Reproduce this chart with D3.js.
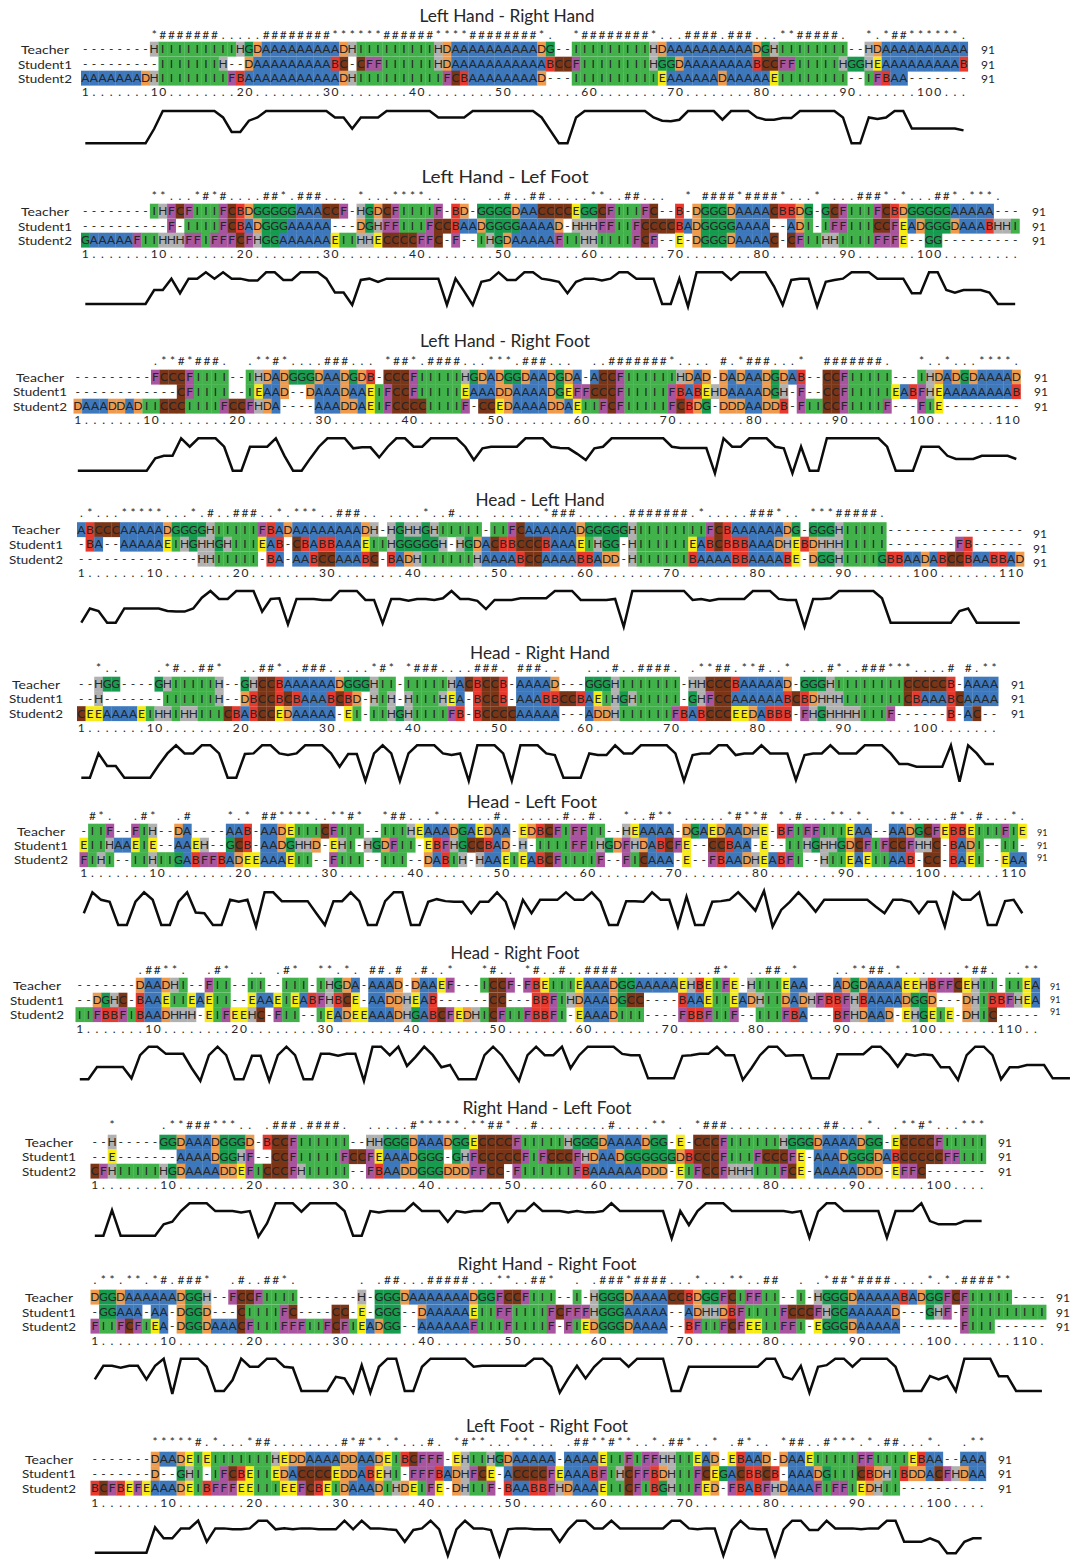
<!DOCTYPE html>
<html><head><meta charset="utf-8">
<script src="https://cdnjs.cloudflare.com/ajax/libs/d3/7.8.5/d3.min.js"></script>
<style>
html,body{margin:0;padding:0;background:#fff;}
svg{display:block;}
text{font-family:"Lato","Open Sans",sans-serif;fill:#262626;white-space:pre;}
</style></head><body><div id="c"></div>
<script>
const titles=["Left Hand - Right Hand","Left Hand - Lef Foot","Left Hand - Right Foot","Head - Left Hand","Head - Right Hand","Head - Left Foot","Head - Right Foot","Right Hand - Left Foot","Right Hand - Right Foot","Left Foot - Right Foot"];
const rowNames=["Teacher","Student1","Student2"];
const countLabel="91";
const teacher=[
"--------HIIIIIIIIIHGDAAAAAAAAADHIIIIIIIIIHDAAAAAAAAAADG--IIIIIIIIIHDAAAAAAAAAADGHIIIIIIII--HDAAAAAAAAAA",
"--------IHFCFIIIFCBDGGGGGAAACCF-HGDCFIIIIF-BD-GGGGDAACCCCEGGCFIIIFC--B-DGGGDAAAACBBDG-GCFIIIFCBDGGGGGAAAAA---",
"---------FCCCFIIII--IHDADGGGDAADGDB-CCCFIIIIIHGDADGGDAADGDA-ACCFIIIIIIHDAD-DADAADGDAB--CCFIIIII---IHDADGDAAAAD",
"ABCCCAAAAADGGGGHIIIIIFBADAAAAAAAADH-HGHHGHIIIII-IIFCAAAAAADGGGGGHIIIIIIIIFCBAAAAAADG-GGGHIIIII----------------",
"--HGG----GHIIIIIH--GHCCBAAAAAADGGGHII-IIIIIHACBCCB-AAAAD---GGGHIIIIIII-HHCCCBAAAAAD-GGGHIIIIIIIICCCCCB-AAAA",
"-IIF--FIH--DA----AAB-AADEIIICFIII--IIIHEAAADGAEDAA-EDBCFIFFII--HEAAAA-DGAEDAADHE-BFIFFIIIEAA--AADGCFEBBEIIIFIE",
"-------DAADHI--FII--II--III-IHGDA-AAAD-DAAEF---ICCF-FBEIIIEAAADGGAAAAAEHBEIFE-HIIIEAA---ADGDAAAAEEHBFFCEHII-IIEA",
"--H-----GGDAAADGGGD-BCCFIIIIII--HHGGGDAAADGGECCCCFIIIIIHGGGDAAAADGG-E-CCCFIIIIIIHGGGDAAAADGG-ECCCCFIIIII",
"DGGDAAAAAADGGH--FCCFIIII-------H-GGGDAAAAAAADGGFCCFIII--I-HGGGDAAAACCBDGGFCIFFII--I-HGGGDAAAAABADGGFCFIIIII----",
"-------DAADEIEIIIIIIIHEDDAAAADDAADEIBCFFF-EHIIHGDAAAAA-AAAAEIIFIFFHHIIEAD-EBAAD-DAAEIIIIIFFIIIIEBAA--AAA"];
const student1=[
"---------IIIIIIIH--DAAAAAAAAABC-CFFIIIIIIHDAAAAAAAAAAABCCFIIIIIIIIHGGDAAAAAAAABCCFFIIIIIHGGHEAAAAAAAAAB",
"----------F-IIIIFCBADGGGAAAAA---DGHFFIIIFCCBAADGGGGAAAAD-HHHFFIIFCCCCBADGGGGAAAA--ADI-IFFIIICCFEADGGGDAAABHHI",
"------------CFIIII--IEAAD--DAAADAAEIFCCFIIIIIEAAADDAAAADGEFFCCCFIIIIIFBABEHDAAAADGH-F--CCFIIIIIEABFHEAAAAAAAAB",
"-BA--AAAAAEIHGHHGHIIIEAB-CBABBAAAEIIHGGGGGH-HGDACBBCCCBAAAEIHGG-HIIIIIIEABCBBBAAADHEBDHHHIIIII--------FB------",
"--H-------IIIIIIH--DBCCBCBAAABCBD-HIH-HIIIHEA-BCCB-AAABBCCBAEIHGHIIIII-GHFCCAAAAAABCBDHHHIIIIIIICBAAABCAAAA",
"EIIHAAEIE--AAEH--GCB-AADGHHD-EHI-HGDFII-EBFHGCCBAD-H-IIIIFFIHGDFHDABCFE--CCBAA-E--IIHGHHGDCFIFCCFHHC-BADI--II-",
"--DGHC-BAAEIIEAEII--EAAEIEABFHBCE-AADDHEAB------CC---BBFIHDAAADGCC----BAAEIIEADHIIDADHFBBFHBAAAADGGD---DHIBBFHEA",
"--E-------AAAADGGHF--CCFIIIIIFCCFEAAADGGG-GHFCCCCCFIFCCCFHDAADGGGGGGDBCCCFIIIFCCCFE-AAADGGGDABCCCCCFFIII",
"-GGAAA-AA-DGGD---CIIIIFC----CC-E-GGG--DAAAAAEIIFFIIIIFCFFFHGGGAAAAA--ADHHDBFIIIIFCCCFHGGAAAAAD---GHF-FIIIIIIIII",
"-------D--GHI-IFCBEIIEDACCCCEDDABEHI-FFFBADHFCE-ACCCCFEAAABFIHCFFBDHIIFCEGACBBCB-AAADGIIICBDHIBDDACFHDAA"];
const student2=[
"AAAAAAADHIIIIIIIIFBAAAAAAAAAAADHIIIIIIIIIIFCBAAAAAAAAD---IIIIIIIIIIEAAAAAADAAAAAEIIIIIIII--IFBAA-------",
"GAAAAAFIIHHHFFIFFFCFHGGAAAAAAEIIHHECCCCFFC-F--IHGDAAAAAFIIHHIIIIFCF--E-DGGGDAAAAC-CFIIHHIIIIFFFE--GG---------",
"DAAADDADIICCCIIIIFCCFHDA----AAADDAEIFCCCCIIIIF-CCEDAAAADDAEIIFCFIIIIIFCBDG-DDDAADDB-FIICCFIIIIF---FIE---------",
"--------------HHIIIII-BA-AABCCAAABC-BADHIIIIIIHAAAABCCAAAABBADD-HIIIIIIBAAAABBAAAABE-DGGHIIIIGBBAADABCCBAABBAD",
"CEEAAAAEIHHIHHIIICBABCCEDAAAAA-EI-IIHGHIIIIFB-BCCCCAAAAA---ADDHIIIIIIFBABCCCEEDABBB-FHGHHHHIIIF------B-AC--",
"FIHI--IIHIIGABFFBADEEAAAEII--FIII--III--DABIH-HAAEIEABCFIIIIF--FICAAA-E--FBAADHEABFI--HIIEAEIIAAB-CC-BAEI--EAA",
"IIFBBFIBAADHHH-EIFEEHC-FII--IEADEEAAADHGABCFEDHICFIIFBBFI-EAAADIII----FBBFIIF--IIIFBA---BFHDAAD-EHGEIE-DHIC-----",
"CFHIIIIIHGDAAAADDEFICCCFHIIIII--FBAADDGGGDDDFFCC-FIIIIIIFBAAAAAADDD-EIFCCFHHHIIIFCE-AAAAADDD-EFFC-------",
"FIIFCFIEA-DGGDAAACFIIIFFFIIFCFIEADGG--AAAAAAFIIIFIIIIF-FIEDGGGDAAAA--BFIIFCFEEIIFFI-EGGGDAAAAA-------FIII------",
"BCFBEFEAAADEIBFFFEEIIIEEFCBEIDAAADIHDEIFE-DHIIF-BAABBFHDAAAEIICFIBGHIIFED-FBABFHDAAAFIFFIEDHII----------"];
const consensus=[
"        *#######.....########******######****########*.  *########*...####.###...**#####.  *.*##******.",
"        **...*#*#....##*.###... *...****.. ..  ..#..##.....**..##...  * ####*####*...* ...###*.*...##*.***.",
"         .**#*###.  .**#*....###... *##*.####...***.###...  ..#######*.... #.*###...*  #######.   *..*...****.",
".*...*****...*.#..###..*.***..###.. ....*..#... ......*###......#######.*.....###*.. ***#####.",
"  *..    .*#..##*  ..##*..###.....*#* *###....###. ###..   ...#..####. .**##.**#..* ...#*..###***....# #.**",
" #*.  .#*  .#    *.* ##****..**#*  *##...*......#. .....#..#.  *..#** .....*#**# *.#...**.*.  **.....#*.#...*.",
"       .##**.  .#*  .. .#*  **.*. ##.# .#..*   *#.. *#..#..####...........#*. ..##.*    ..**##.*.......*##. ..**",
"  *     .**###***.. .###.####.  .....#*****.**##*..#........#....** . *###...........##...*. .**#*...***",
".**.**.*#.###*  .#..##*.       . .##...#####...**..##*  . .###*####...*...**..##  . .*##*####....*.*.####**",
"       *****#.*...*##........#*#**.*...#. *#**...**... .##**#**..*.##*..* .#*.. *##..#***.*.##...*.  .**"];
const conservation=[
[0,0,0,0,0,0,0,0,4.5,10,10,10,10,10,10,10,8,3.5,3.5,7,8,10,10,10,10,10,10,10,10,8,8,4.5,8,8,8,10,10,10,10,10,10,8,8,8,8,10,10,10,10,10,10,10,10,8,4,0,0,8,10,10,10,10,10,10,10,10,8,7,6.8,7.3,10,10,10,10,7.3,10,10,10,8,7.3,7.3,7.8,7.8,10,10,10,10,10,8,0,0,8,7.5,8,10,10,4.6,4.6,4.6,4.6,4.6,4.6,4],
[0,0,0,0,0,0,0,0,4.4,4.4,8,3.4,8,8,10,8,10,8,8,7.4,7.4,10,10,7.6,7.6,10,10,10,8,3.6,3.6,-.3,7.6,8,7,8,8,8,8,8,8,8,-.3,8,4,-.3,7,7.6,10,7.6,7.6,10,10,8,7.6,7,3.4,7,8,8,7.4,8,10,10,8,8,8,0,0,8,-.8,10,10,10,10,7.6,10,10,10,10,5.5,-.3,7.6,8,8,-.8,7,7.6,8,10,10,10,8,8,8,8,3.4,3.4,10,10,4.4,3.6,4.4,4.4,4.4,3.6,0,0,0],
[0,0,0,0,0,0,0,0,0,3.8,4.6,4.6,10,7.4,10,10,10,7.4,0,0,7.4,7.4,7.4,10,4.6,0,0,3.8,7.4,10,10,10,6.9,7.2,7.2,4.1,7.4,10,10,7.4,7.4,10,10,10,10,7.4,3.3,6.9,7.4,7.4,7.4,7.4,10,10,10,7.4,7,6.9,5.2,3.3,6.9,7.4,10,10,10,10,10,10,10,7.4,7,7,7,7,-.8,10,7.4,7.4,10,10,10,7.4,6.9,-.8,7.4,0,0,10,10,10,10,10,10,10,7.4,0,0,0,7.4,7.4,7.4,4.6,3.6,3.6,3.6,4.6,4.6,4.6,4.6,3.6],
[0,4.5,3.7,0,0,4.5,4.5,4.5,4.5,4.5,3.7,3.5,3.5,4.5,7.9,10,7.5,7.5,10,10,10,3.5,7.5,7.7,-.5,7.5,7.5,7.5,7.2,7.2,10,10,10,7.2,7.2,-.2,7.5,7.5,6.9,7.5,7.5,7.2,7.7,10,7.5,7.5,6.9,4.3,7.2,7.2,7.2,7.7,7.7,7.7,7.7,10,10,10,7.2,7.2,7.2,7.2,7.5,-1.3,10,10,10,10,10,10,10,7.2,7.5,6.9,7.5,7.5,7.5,7.5,10,10,10,7.5,7.2,7.2,-1.3,7.5,7.5,7.7,10,10,10,10,10,7.7,0,0,0,0,0,0,0,0,3.7,4.5,0,0,0,0,0,0],
[0,0,7.5,3.6,3.6,0,0,0,0,3.9,7.5,10,7.5,7.5,10,10,7.5,0,0,7.3,7.5,10,10,7.5,7,7.5,10,10,10,7.5,3.4,7.3,7.3,-1,7.5,10,7.5,-1,7.5,10,10,10,7.5,7,7.5,-1,10,10,10,7.5,-1,10,10,10,7.5,7,0,0,0,7.5,7,7,10,7.5,7.5,10,10,10,10,7.5,-1,7,7.5,7.5,10,10,7,7.5,7.5,10,7.5,7.5,7.5,-.7,7,7.5,7.5,10,7.5,7.5,7.5,10,10,10,7.5,4.2,4.2,3.4,3.4,3.4,3.4,10,-1.2,10,7.5,4.2,4.2],
[3.6,10,7.7,7.1,0,0,7.1,10,7.7,0,0,7.1,10,3.8,3.6,0,0,7.7,7.1,7.7,-.5,10,10,7.3,7.3,7.3,7.3,3.6,0,7.3,7.3,10,7.3,0,0,7.3,10,10,0,0,7.1,7.9,7.3,7.1,7.1,3.6,7.1,7.1,10,7.1,-.5,7.7,3.6,7.7,7.7,7.7,10,7.7,7.7,10,7.1,0,0,7.3,7.3,7.1,10,7.7,7.7,-.5,8.7,0,0,7.1,7.3,7.7,10,7.3,4.4,10.4,-.5,4.6,7.1,10,7.3,4.1,7.7,7.7,7.7,7.7,7.7,7.7,5.6,3.6,7.7,7.7,7.1,3.6,7.1,7.1,-.5,10,7.7,7.7,10,0,0,7.3,7.7,3.6],
[0,0,3.8,3.8,3.8,3.8,.3,7.4,10,10,7.8,7.8,7.8,3.4,-.5,7.4,10,7.4,0,0,7.2,7.2,-.5,7.4,10,7.4,0,0,7.8,7.8,7.2,7.8,7.8,-.5,10,10,7.4,10,4.1,6.9,10,7.4,3.7,4.4,0,0,0,7.4,10,7.4,3.4,-.5,7.4,10,7.4,7.4,10,3.4,7.4,10,10,10,10,7.8,7.4,7.4,.3,.3,.3,.3,7.2,7.4,7.8,7.8,10,7.4,7.4,-.2,3.4,7.4,10,10,7.2,7.4,7.4,.3,.3,.3,7.7,7.7,7.7,7.7,10,10,7.4,3.9,7.7,7.2,7.7,7.4,3.7,3.7,-.2,7.4,10,10,7.4,0,3.7,3.7,4.4,4.4,4.4,.3,.3,.3],
[0,0,7.9,0,0,0,0,0,3.5,4.3,7.6,10,10,10,7.6,7.6,7.6,7.2,7.6,-.3,3.8,10,10,10,7.4,10,10,10,10,7.6,0,0,7.6,7.2,7.6,7.6,7.6,10,7.6,7.6,7.6,4.3,7.6,7.2,7.6,7.6,10,10,4.3,7.6,7.6,10,7.6,7.6,7.6,7.2,7.6,7.2,7.2,7.6,10,7.6,7.6,7.6,7.6,7.6,7.6,-.8,7.6,3.3,7.6,10,10,10,7.6,7.6,7.6,7.6,7.6,7.6,7.6,7.2,7.6,-.6,7.4,10,10,7.6,7.6,7.6,7.6,7.6,-.6,7.6,7.6,7.6,10,4.5,3.5,3.5,3.5,4.5,4.5,4.5],
[3.6,7.8,7.8,7.2,7.8,7.8,3.6,7.8,10,-.9,10,10,10,7.5,0,0,3.4,10,7.5,7.5,10,10,7.5,7.2,0,0,0,0,4.4,3.9,-.5,8,-.5,7.5,10,10,0,0,7.5,10,10,10,10,10,7.5,7.8,7.8,7.8,7.8,7.8,7.8,10,10,7.5,-.5,3.9,7.8,3.9,7.5,10,10,10,7.5,10,10,10,10,0,0,7.5,7.5,7.5,7.5,7.5,7.5,7.5,7.5,7.5,10,10,4.4,3.6,7.8,-.5,7.5,8,10,10,7.5,10,10,10,10,7.5,0,0,0,4.6,3.6,4.6,0,10,10,10,10,4.6,4.6,0,0,0,0],
[0,0,0,0,0,0,0,7.9,4.5,4.5,7.6,7.6,10,3.4,7.6,7.6,7.3,7.3,7.6,10,10,7.3,7.6,7.3,7.6,7.6,7.3,7.3,7.3,10,7.3,10,7.6,7.6,7.3,7.1,3.4,7.1,7.6,10,7.3,-.9,7.3,10,7.6,7.6,7.1,-.9,7.3,7.6,7.6,7.3,7.3,7.3,3.4,7.3,10,10,7.6,7.6,10,7.6,7.6,7.6,7.6,7.6,7.6,10,10,7.6,7.3,7.6,7.6,-.9,7.1,10,7.6,7.3,7.3,-.9,7.3,10,10,7.1,7.1,10,7.6,7.6,7.6,7.3,7.6,7.6,10,10,3.4,3.4,3.4,4.5,3.4,-.2,-.2,3.4,4.5,4.5]];
const symbolColors={A:"#3d78bc",B:"#e63a2e",C:"#7a3416",D:"#ee9b4e",E:"#f6eb14",F:"#a9549e",G:"#169b4f",H:"#b1b1b1",I:"#41b24a"};

// layout
const cellW=8.61;
const panelLeft=[81,81,73.5,77,77,79.5,75.5,90.5,90.5,90.5];
const titleX=[507,505,505,540,540,532,515,547,547,547];
const titleWidth=[175,167,170,129,140,130,129,169,179,162];
const titleY=[16,177,341,500,653,802,953,1108,1264,1426];
const consensusY=[35,196,361,513,668,816,970,1125,1280,1442];
const rowY=[[49,64,78],[211,226,240],[377,391.5,406],[529.5,544,559],[684,698.5,713.5],[831,845,859.5],[985,1000,1014.5],[1142,1156.5,1171],[1297,1312,1326],[1459,1473.5,1488]];
const rulerY=[92,254,420,573,728,873,1029,1185,1341,1503];
const lineTop=[111,272.3,438.3,591,745.3,892.3,1046.7,1203.3,1358.7,1520.7];
const lineBottom=[143.3,304,470.7,622.7,777.7,925,1079.3,1235.7,1391,1552.7];
const labelX=[45,45,40,36,36,41,37,49,49,49];
const labelWidth=[48,54,54];
const countX=[981,1032,1034,1033,1011,1037,1050,998,1056,998];
const countY=[[49,64,78],[211,226,240],[377,391.5,406],[533,548,562],[684,698.5,713.5],[831,844,856],[985,998,1010.5],[1142,1156.5,1171],[1297,1312,1326],[1459,1473.5,1488]];
const countSize=[13,13,13,13,13,10,10,13,13,13];

const svg=d3.select("#c").append("svg").attr("width",1070).attr("height",1564);
function rulerText(n){
  const a=new Array(n).fill(".");
  [1].concat(d3.range(10,n+1,10)).forEach(t=>{
    const s=String(t);
    s.split("").forEach((ch,i)=>{a[t-s.length+i]=ch;});
  });
  return a.join("");
}
titles.forEach((title,p)=>{
  const rows=[teacher[p],student1[p],student2[p]];
  const n=d3.max(rows,r=>r.length);
  const g=svg.append("g");
  const x=d3.scaleBand().domain(d3.range(1,n+1)).range([panelLeft[p],panelLeft[p]+n*cellW]);
  const xc=i=>x(i+1)+x.bandwidth()/2;
  const ext=c=>panelLeft[p]+(c-0.5)*cellW;
  // cells
  rows.forEach((r,ri)=>{
    const cells=r.split("").map((s,i)=>({s,i})).filter(d=>d.s!=="-");
    g.append("g").selectAll("rect").data(cells).join("rect")
      .attr("x",d=>x(d.i+1)).attr("width",x.bandwidth()+0.25)
      .attr("y",rowY[p][ri]-7.3).attr("height",14.9)
      .attr("fill",d=>symbolColors[d.s]);
  });
  const seqText=(str,y,size,sx)=>g.append("text").text(str)
      .attr("transform",`scale(${sx},1)`)
      .attr("x",str.split("").map((_,i)=>(xc(i)/sx).toFixed(2)).join(" "))
      .attr("y",y).attr("text-anchor","middle").attr("font-size",size);
  rows.forEach((r,ri)=>seqText(r,rowY[p][ri]+4.4,12,1));
  seqText(consensus[p],consensusY[p]+4.3,12,1);
  seqText(rulerText(n),rulerY[p]+4.3,12,1);
  rowNames.forEach((name,ri)=>{
    g.append("text").text(name).attr("x",labelX[p]).attr("y",rowY[p][ri]+4.5)
      .attr("text-anchor","middle").attr("font-size",12)
      .attr("textLength",labelWidth[ri]).attr("lengthAdjust","spacingAndGlyphs");
    g.append("text").text(countLabel).attr("x",countX[p]).attr("y",countY[p][ri]+4.5)
      .attr("font-size",countSize[p]-1).attr("fill","#3a3a3a");
  });
  g.append("text").text(title).attr("x",titleX[p]).attr("y",titleY[p]+6)
    .attr("text-anchor","middle").attr("font-size",18)
    .attr("textLength",titleWidth[p]).attr("lengthAdjust","spacingAndGlyphs");
  // conservation line
  const vals=conservation[p];
  const y=d3.scaleLinear().domain([0,10]).range([lineBottom[p],lineTop[p]]);
  const line=d3.line().x((d,i)=>ext(i+1)).y(d=>y(d));
  g.append("path").attr("d",line(vals)).attr("fill","none").attr("stroke","#0c0c0c")
    .attr("stroke-width",2.5).attr("stroke-linejoin","miter").attr("stroke-miterlimit",4);
});
</script></body></html>
